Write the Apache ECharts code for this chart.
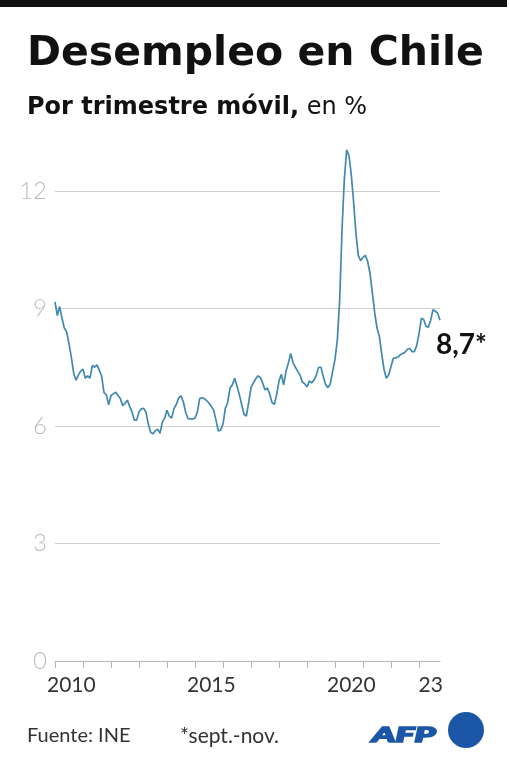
<!DOCTYPE html>
<html>
<head>
<meta charset="utf-8">
<script src="https://cdn.jsdelivr.net/npm/echarts@6/dist/echarts.min.js"></script>
<style>
  html, body { margin: 0; padding: 0; background: #fff; }
  #chart { width: 509px; height: 768px; }
</style>
</head>
<body>
<div id="chart"></div>
<script>
// tasa de desempleo, trimestre movil (dic-feb 2010 ... sept-nov 2023)
var startYear = 2010;
var values = [
  9.17, 8.82, 9.05, 8.75, 8.5, 8.4, 8.1, 7.75, 7.35, 7.17, 7.3, 7.4,
  7.45, 7.22, 7.28, 7.22, 7.55, 7.5, 7.56, 7.42, 7.27, 6.85, 6.8, 6.54,
  6.78, 6.82, 6.86, 6.78, 6.7, 6.52, 6.58, 6.66, 6.5, 6.36, 6.15, 6.15,
  6.36, 6.44, 6.45, 6.35, 6.05, 5.84, 5.8, 5.88, 5.92, 5.81, 6.1, 6.2,
  6.4, 6.25, 6.2, 6.45, 6.55, 6.72, 6.77, 6.62, 6.35, 6.19, 6.18, 6.18,
  6.2, 6.35, 6.7, 6.72, 6.7, 6.65, 6.58, 6.5, 6.4, 6.15, 5.87, 5.9,
  6.05, 6.45, 6.6, 6.97, 7.05, 7.22, 7.02, 6.8, 6.55, 6.3, 6.25, 6.6,
  6.98, 7.1, 7.2, 7.28, 7.24, 7.1, 6.92, 6.97, 6.82, 6.6, 6.55, 6.8,
  7.15, 7.32, 7.05, 7.4, 7.6, 7.85, 7.62, 7.5, 7.4, 7.3, 7.12, 7.08,
  7.0, 7.15, 7.1, 7.17, 7.3, 7.5, 7.5, 7.26, 7.05, 6.98, 7.08, 7.4,
  7.7, 8.2, 9.2, 11.0, 12.3, 13.05, 12.9, 12.4, 11.7, 10.9, 10.35, 10.22,
  10.3, 10.36, 10.2, 9.9, 9.4, 8.9, 8.5, 8.3, 7.85, 7.45, 7.22, 7.3,
  7.52, 7.73, 7.74, 7.76, 7.82, 7.85, 7.88, 7.96, 7.98, 7.9, 7.9, 8.05,
  8.35, 8.75, 8.72, 8.55, 8.52, 8.7, 8.97, 8.93, 8.88, 8.7
];
var yearLabels = { 7: '2010', 67: '2015', 127: '2020', 161: '23' };
var lastLabel = '8,7*';

var months = [];
for (var i = 0; i < values.length; i++) {
  months.push((startYear + Math.floor(i / 12)) + '-' + ('0' + (i % 12 + 1)).slice(-2));
}

var FONT = 'Lato, "Noto Sans", sans-serif';
var HEAD = '"DejaVu Sans", sans-serif';
var chart = echarts.init(document.getElementById('chart'), null, { renderer: 'canvas' });

chart.setOption({
  animation: false,
  grid: { left: 55, right: 69, top: 191, bottom: 107 },
  xAxis: {
    type: 'category',
    data: months,
    boundaryGap: false,
    axisLine: { lineStyle: { color: '#b5b5b5', width: 1 } },
    axisTick: {
      interval: function (idx) { return idx % 12 === 0; },
      length: 7,
      lineStyle: { color: '#b5b5b5' }
    },
    axisLabel: {
      interval: function (idx) { return yearLabels[idx] !== undefined; },
      formatter: function (v, idx) { return yearLabels[idx] || ''; },
      margin: 14,
      fontFamily: FONT,
      fontSize: 21,
      color: '#333'
    },
    splitLine: { show: false }
  },
  yAxis: {
    type: 'value',
    min: 0,
    max: 12,
    interval: 3,
    axisLine: { show: false },
    axisTick: { show: false },
    axisLabel: {
      margin: 8,
      fontFamily: FONT,
      fontSize: 24,
      fontWeight: 300,
      color: '#bdbdbd'
    },
    splitLine: { lineStyle: { color: '#d0d0d0', width: 1 } }
  },
  series: [{
    type: 'line',
    data: values,
    clip: false,
    showSymbol: false,
    symbol: 'none',
    lineStyle: { color: '#4189b0', width: 1.7 },
    endLabel: {
      show: true,
      formatter: lastLabel,
      fontFamily: FONT,
      fontSize: 28,
      fontWeight: 'bold',
      color: '#111',
      offset: [-12, 25]
    }
  }],
  graphic: [
    { type: 'rect', shape: { x: 0, y: 0, width: 507, height: 7 }, style: { fill: '#111' } },
    { type: 'text', x: 27, y: 54, style: { text: 'Desempleo en Chile', font: 'bold 41px ' + HEAD, fill: '#111', verticalAlign: 'middle' } },
    { type: 'text', x: 27, y: 108, style: {
      text: '{b|Por trimestre móvil,}{r| en %}',
      verticalAlign: 'middle',
      rich: {
        b: { fontFamily: HEAD, fontSize: 24, fontWeight: 'bold', fill: '#111' },
        r: { fontFamily: HEAD, fontSize: 24, fill: '#111' }
      }
    } },
    { type: 'text', x: 27, y: 736, style: { text: 'Fuente: INE', font: '20px ' + FONT, fill: '#333', verticalAlign: 'middle' } },
    { type: 'text', x: 180, y: 736, style: { text: '*sept.-nov.', font: '21px ' + FONT, fill: '#333', verticalAlign: 'middle' } },
    { type: 'text', x: 372, y: 735, scaleX: 1.7, style: {
      text: 'AFP', font: 'italic 900 21px Lato, ' + HEAD, fill: '#1b57a6',
      stroke: '#1b57a6', lineWidth: 1.6, verticalAlign: 'middle'
    } },
    { type: 'circle', shape: { cx: 466, cy: 730, r: 18 }, style: { fill: '#1b57a6' } }
  ]
});
</script>
</body>
</html>
